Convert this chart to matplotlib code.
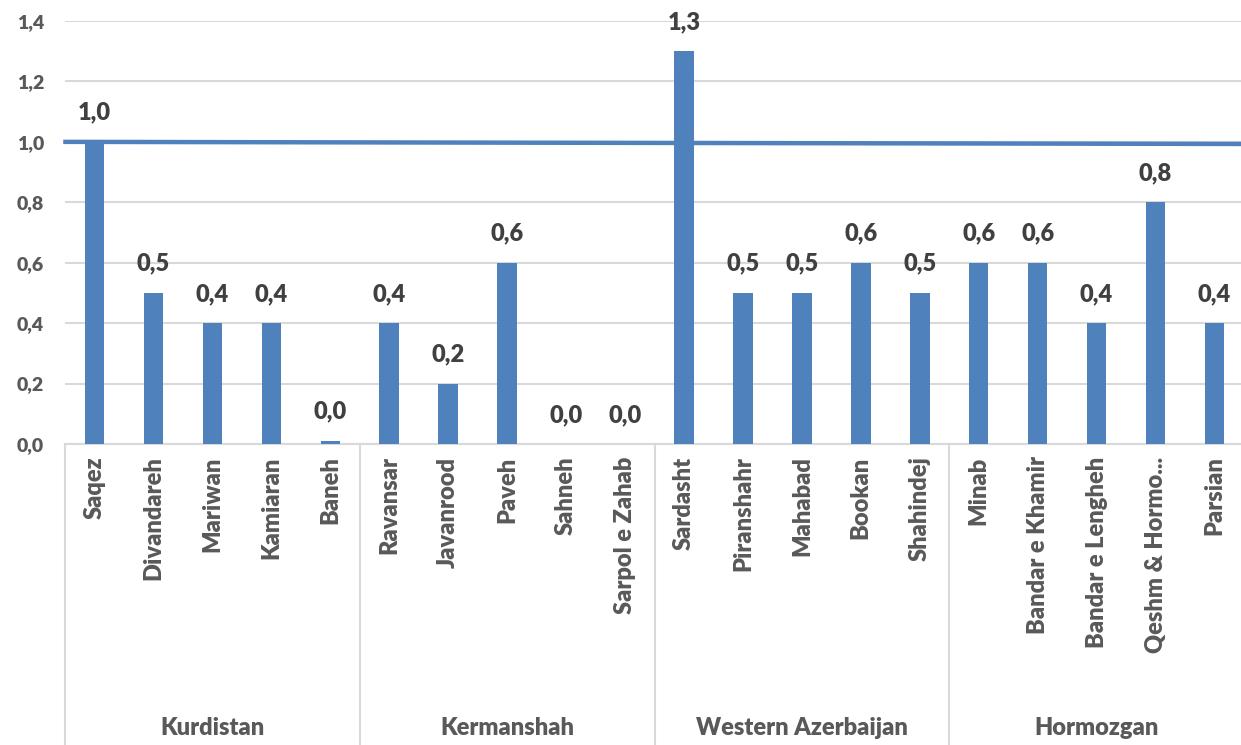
import matplotlib
matplotlib.use('Agg')
import matplotlib.pyplot as plt
from matplotlib.ticker import FuncFormatter
from matplotlib.transforms import blended_transform_factory

provinces = ['Kurdistan', 'Kermanshah', 'Western Azerbaijan', 'Hormozgan']
cities = [
    ['Saqez', 'Divandareh', 'Mariwan', 'Kamiaran', 'Baneh'],
    ['Ravansar', 'Javanrood', 'Paveh', 'Sahneh', 'Sarpol e Zahab'],
    ['Sardasht', 'Piranshahr', 'Mahabad', 'Bookan', 'Shahindej'],
    ['Minab', 'Bandar e Khamir', 'Bandar e Lengheh', 'Qeshm & Hormo...', 'Parsian'],
]
values = [
    [1.0, 0.5, 0.4, 0.4, 0.01],
    [0.4, 0.2, 0.6, 0.0, 0.0],
    [1.3, 0.5, 0.5, 0.6, 0.5],
    [0.6, 0.6, 0.4, 0.8, 0.4],
]
ref_line = [1.0, 0.993]

BLUE = '#4f81bd'
GRID = '#d9d9d9'
TXT = '#595959'
WT = 'heavy'
plt.rcParams['font.family'] = ['Lato', 'DejaVu Sans']

labels = [c for grp in cities for c in grp]
vals = [v for grp in values for v in grp]
x = list(range(len(vals)))

fig = plt.figure(figsize=(12.41, 7.45), dpi=100)
ax = fig.add_axes([65 / 1241, 301 / 745, 1179 / 1241, 423 / 745])

ax.bar(x, vals, width=0.33, color=BLUE, zorder=3)
for xi, v in zip(x, vals):
    ax.annotate(f'{v:.1f}'.replace('.', ','), (xi, v), xytext=(0, 21),
                textcoords='offset points', ha='center', va='center',
                fontsize=17, fontweight=WT, color='#404040')

# threshold line across the whole plot
ax.plot([-0.53, len(vals) - 0.5], ref_line, color=BLUE, lw=3.2, zorder=4,
        solid_capstyle='butt', clip_on=False)

ax.set_xlim(-0.5, len(vals) - 0.5)
ax.set_ylim(0, 1.4)
ax.set_yticks([i * 0.2 for i in range(8)])
ax.yaxis.set_major_formatter(FuncFormatter(lambda v, p: f'{v:.1f}'.replace('.', ',')))
ax.grid(axis='y', color=GRID, lw=1.5, zorder=0)
for s in ['top', 'right', 'left']:
    ax.spines[s].set_visible(False)
ax.spines['bottom'].set_color(GRID)
ax.spines['bottom'].set_linewidth(1.5)
ax.tick_params(axis='y', length=0, pad=15, labelsize=14, labelcolor=TXT)
ax.tick_params(axis='x', length=0, pad=9, labelsize=17, labelcolor=TXT)
ax.set_xticks(x)
ax.set_xticklabels(labels, rotation=90, va='top', ha='center')
for t in ax.get_xticklabels() + ax.get_yticklabels():
    t.set_fontweight(WT)

# province separators and names under the city labels
tr = blended_transform_factory(ax.transData, ax.transAxes)
n = 0
for name, grp in zip(provinces, cities):
    ax.plot([n - 0.5, n - 0.5], [0, -301 / 423], color=GRID, lw=1.5,
            transform=tr, clip_on=False)
    mid = n + (len(grp) - 1) / 2
    ax.text(mid, -284 / 423, name, transform=tr, ha='center', va='center',
            fontsize=17, fontweight=WT, color=TXT)
    n += len(grp)
ax.plot([n - 0.5, n - 0.5], [0, -301 / 423], color=GRID, lw=1.5,
        transform=tr, clip_on=False)

fig.savefig('out.png', dpi=100)
